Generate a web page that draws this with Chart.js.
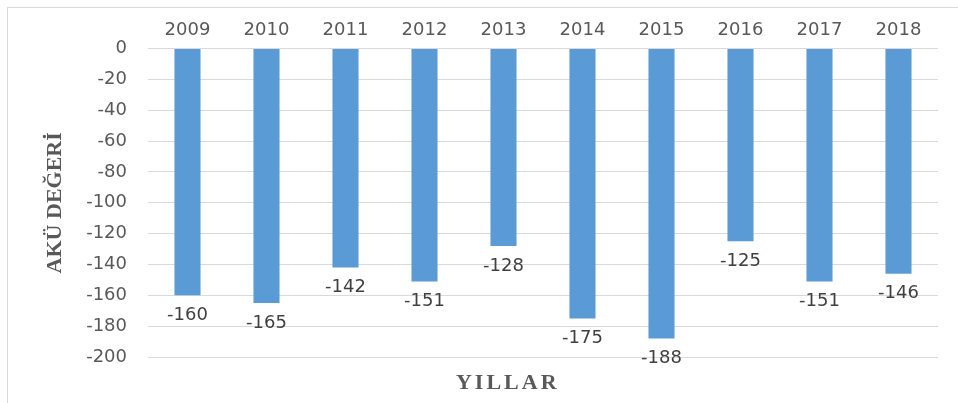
<!DOCTYPE html>
<html>
<head>
<meta charset="utf-8">
<script src="https://cdn.jsdelivr.net/npm/chart.js@4"></script>
<style>
  html, body { margin: 0; padding: 0; background: #fff; }
  #wrap { width: 958px; height: 403px; position: relative; }
</style>
</head>
<body>
<div id="wrap"><canvas id="grafico_aku"></canvas></div>
<script>
// datos del grafico
const yillar = ['2009', '2010', '2011', '2012', '2013', '2014', '2015', '2016', '2017', '2018']
const akuDegeri = [-160, -165, -142, -151, -128, -175, -188, -125, -151, -146]
const yMin = -200
const yMax = 0
const yStep = 20

const grisTexto = '#595959'
const grisLinea = '#d9d9d9'
const azul = '#5b9bd5'

// marco gris alrededor del grafico
const marco = {
    id: 'marco',
    beforeDraw(chart) {
        const ctx = chart.ctx
        ctx.save()
        ctx.fillStyle = '#fff'
        ctx.fillRect(0, 0, chart.width, chart.height)
        ctx.strokeStyle = grisLinea
        ctx.lineWidth = 1
        ctx.strokeRect(7.5, 7.5, chart.width + 20, chart.height + 20)
        ctx.restore()
    }
}

// etiquetas con el valor debajo de cada barra
const etiquetas = {
    id: 'etiquetas',
    afterDatasetsDraw(chart) {
        const ctx = chart.ctx
        const meta = chart.getDatasetMeta(0)
        ctx.save()
        ctx.font = '18px "DejaVu Sans"'
        ctx.fillStyle = '#404040'
        ctx.textAlign = 'center'
        ctx.textBaseline = 'middle'
        meta.data.forEach((bar, i) => {
            ctx.fillText(String(chart.data.datasets[0].data[i]), bar.x, bar.y + 20)
        })
        ctx.restore()
    }
}

// titulo del eje x, abajo
const tituloX = {
    id: 'tituloX',
    afterDraw(chart) {
        const ctx = chart.ctx
        ctx.save()
        ctx.font = 'bold 22px "Liberation Serif"'
        ctx.letterSpacing = '3px'
        ctx.fillStyle = grisTexto
        ctx.textAlign = 'center'
        ctx.textBaseline = 'middle'
        ctx.fillText('YILLAR', chart.width * 0.53, chart.chartArea.bottom + 26)
        ctx.restore()
    }
}

const ctx = document.getElementById('grafico_aku').getContext('2d')

const data = {
    labels: yillar,
    datasets: [{
        data: akuDegeri,
        backgroundColor: azul,
        borderWidth: 0,
        categoryPercentage: 1,
        barPercentage: 0.33
    }]
}

const options = {
    responsive: true,
    maintainAspectRatio: false,
    animation: false,
    layout: { padding: { left: 10, right: 20, top: 13, bottom: 46 } },
    scales: {
        x: {
            position: 'top',
            grid: { display: false, drawTicks: false },
            border: { display: false },
            ticks: { color: grisTexto, padding: 7, font: { family: 'DejaVu Sans', size: 18 } }
        },
        y: {
            min: yMin,
            max: yMax,
            grid: { color: grisLinea, drawTicks: false },
            border: { display: false },
            ticks: { stepSize: yStep, color: grisTexto, padding: 21, font: { family: 'DejaVu Sans', size: 18 } },
            title: {
                display: true,
                text: 'AKÜ DEĞERİ',
                color: grisTexto,
                padding: { top: 32, bottom: 0 },
                font: { family: 'Liberation Serif', size: 22, weight: 'bold' }
            },
            afterFit(scale) { scale.width = 138 }
        }
    },
    plugins: {
        legend: { display: false },
        tooltip: { enabled: false }
    }
}

new Chart(ctx, { type: 'bar', data, options, plugins: [marco, etiquetas, tituloX] })
</script>
</body>
</html>
